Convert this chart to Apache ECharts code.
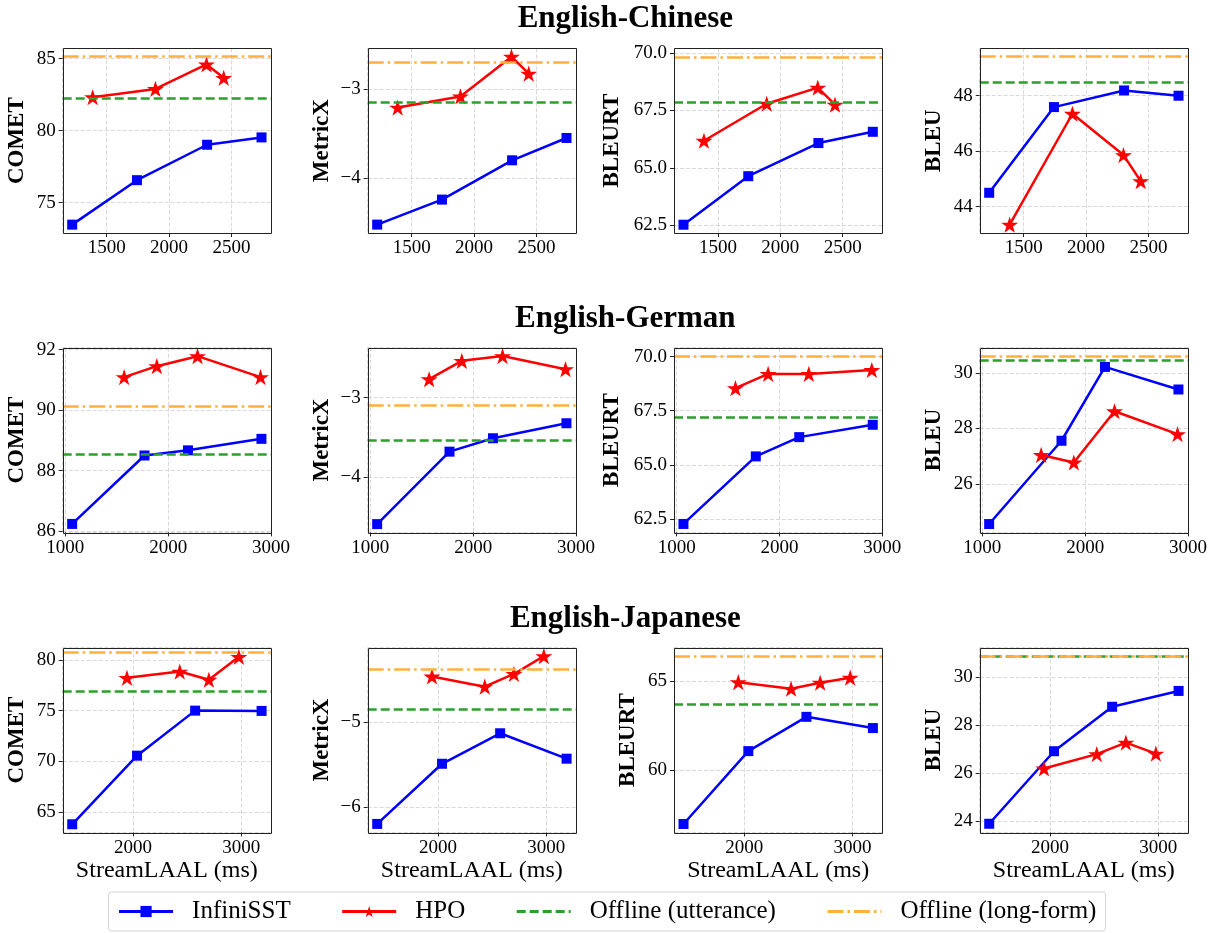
<!DOCTYPE html>
<html>
<head>
<meta charset="utf-8">
<title>StreamLAAL vs quality</title>
<script src="https://cdn.jsdelivr.net/npm/echarts@6/dist/echarts.min.js"></script>
<style>
  html, body { margin: 0; padding: 0; background: #fff; }
  #chart { width: 1214px; height: 933px; }
</style>
</head>
<body>
<div id="chart"></div>
<script>
// StreamLAAL (ms), shared by all metrics of one language pair
const zhLatInfini = [1224, 1743, 2305, 2741];
const zhLatHPO = [1388, 1891, 2300, 2438];
const deLatInfini = [1066, 1770, 2193, 2908];
const deLatHPO = [1572, 1890, 2286, 2899];
const jaLatInfini = [1438, 2037, 2574, 3188];
const jaLatHPO = [1944, 2432, 2701, 2978];

// English-Chinese
const zhCometInfini = [73.47, 76.56, 79.02, 79.53];
const zhCometHPO = [82.32, 82.9, 84.6, 83.67];
const zhMetricxInfini = [-4.52, -4.24, -3.80, -3.55];
const zhMetricxHPO = [-3.21, -3.085, -2.64, -2.83];
const zhBleurtInfini = [62.53, 64.64, 66.08, 66.57];
const zhBleurtHPO = [66.18, 67.79, 68.49, 67.75];
const zhBleuInfini = [44.50, 47.59, 48.19, 48.0];
const zhBleuHPO = [43.35, 47.35, 45.86, 44.92];
const zhOfflineUtt = [82.23, -3.15, 67.86, 48.49];   // COMET, MetricX, BLEURT, BLEU
const zhOfflineLong = [85.14, -2.70, 69.81, 49.41];

// English-German
const deCometInfini = [86.24, 88.5, 88.67, 89.05];
const deCometHPO = [91.09, 91.45, 91.78, 91.09];
const deMetricxInfini = [-4.586, -3.678, -3.51, -3.322];
const deMetricxHPO = [-2.77, -2.54, -2.48, -2.644];
const deBleurtInfini = [62.27, 65.39, 66.28, 66.85];
const deBleurtHPO = [68.54, 69.2, 69.2, 69.38];
const deBleuInfini = [24.57, 27.56, 30.21, 29.40];
const deBleuHPO = [27.05, 26.78, 28.62, 27.80];
const deOfflineUtt = [88.53, -3.536, 67.21, 30.45];
const deOfflineLong = [90.12, -3.096, 70.02, 30.60];

// English-Japanese
const jaCometInfini = [63.8, 70.56, 75.0, 74.97];
const jaCometHPO = [78.23, 78.85, 78.04, 80.3];
const jaMetricxInfini = [-6.2, -5.49, -5.13, -5.43];
const jaMetricxHPO = [-4.46, -4.58, -4.43, -4.22];
const jaBleurtInfini = [57.0, 61.08, 63.0, 62.37];
const jaBleurtHPO = [64.94, 64.57, 64.91, 65.19];
const jaBleuInfini = [23.9, 26.92, 28.77, 29.43];
const jaBleuHPO = [26.2, 26.8, 27.28, 26.82];
const jaOfflineUtt = [76.95, -4.85, 63.69, 30.87];
const jaOfflineLong = [80.75, -4.37, 66.4, 30.89];

// axis ranges and tick steps
const metricNames = ['COMET', 'MetricX', 'BLEURT', 'BLEU'];
const zhYMin = [72.89, -4.614, 62.17, 43.05];
const zhYMax = [85.72, -2.546, 70.2, 49.71];
const zhYStep = [5, 1, 2.5, 2];
const deYMin = [85.96, -4.69, 61.88, 24.27];
const deYMax = [92.06, -2.375, 70.41, 30.90];
const deYStep = [2, 1, 2.5, 2];
const jaYMin = [63.0, -6.30, 56.53, 23.54];
const jaYMax = [81.2, -4.12, 66.87, 31.23];
const jaYStep = [5, 1, 5, 2];
const latMin = [1148, 974, 1350];
const latMax = [2817, 3001, 3275];
const latStep = [500, 1000, 1000];

const rows = [
  {title: 'English-Chinese', latI: zhLatInfini, latH: zhLatHPO,
   inf: [zhCometInfini, zhMetricxInfini, zhBleurtInfini, zhBleuInfini],
   hpo: [zhCometHPO, zhMetricxHPO, zhBleurtHPO, zhBleuHPO],
   utt: zhOfflineUtt, long: zhOfflineLong, yMin: zhYMin, yMax: zhYMax, yStep: zhYStep},
  {title: 'English-German', latI: deLatInfini, latH: deLatHPO,
   inf: [deCometInfini, deMetricxInfini, deBleurtInfini, deBleuInfini],
   hpo: [deCometHPO, deMetricxHPO, deBleurtHPO, deBleuHPO],
   utt: deOfflineUtt, long: deOfflineLong, yMin: deYMin, yMax: deYMax, yStep: deYStep},
  {title: 'English-Japanese', latI: jaLatInfini, latH: jaLatHPO,
   inf: [jaCometInfini, jaMetricxInfini, jaBleurtInfini, jaBleuInfini],
   hpo: [jaCometHPO, jaMetricxHPO, jaBleurtHPO, jaBleuHPO],
   utt: jaOfflineUtt, long: jaOfflineLong, yMin: jaYMin, yMax: jaYMax, yStep: jaYStep}
];

const FONT = '"Liberation Serif", "Times New Roman", serif';
const STAR = 'path://M0,-100L22.5,-30.9L95.1,-30.9L36.3,11.8L58.8,80.9L0,38.2L-58.8,80.9L-36.3,11.8L-95.1,-30.9L-22.5,-30.9Z';
const BLUE = '#0000ff', RED = '#ff0000', GREEN = '#2ca02c', ORANGE = '#ffb13b';
const UTT_DASH = [9, 4], LONG_DASH = [16, 4, 2.5, 4];

const lefts = [62.7, 367.7, 674, 979.7];
const tops = [48.3, 347.7, 647.7];
const W = 208.3, H = 184.7;

const grids = [], xAxes = [], yAxes = [], series = [], graphics = [];

function tickFmt(step) {
  return function (v) {
    const s = step % 1 ? v.toFixed(1) : String(Math.round(v));
    return s.replace('-', '\u2212');
  };
}

const splitStyle = {show: true, lineStyle: {color: '#cfcfcf', width: 0.8, type: [4, 2]}};

rows.forEach(function (row, r) {
  graphics.push({
    type: 'text', x: (lefts[0] + lefts[3] + W) / 2, y: tops[r] - 29,
    style: {text: row.title, font: 'bold 31px ' + FONT, fill: '#000',
            textAlign: 'center', textVerticalAlign: 'middle'}
  });
  metricNames.forEach(function (name, c) {
    const idx = grids.length;
    grids.push({left: lefts[c], top: tops[r], width: W, height: H, show: false});
    // panel frame drawn above the split lines
    graphics.push({
      type: 'rect', z: 100, silent: true,
      shape: {x: Math.round(lefts[c]) + 0.5, y: Math.round(tops[r]) + 0.5, width: Math.round(W), height: Math.round(H)},
      style: {fill: 'none', stroke: '#222', lineWidth: 1}
    });
    xAxes.push({
      type: 'value', gridIndex: idx, min: latMin[r], max: latMax[r],
      minInterval: latStep[r], maxInterval: latStep[r],
      name: r === 2 ? 'StreamLAAL (ms)' : '', nameLocation: 'middle', nameGap: 26,
      nameTextStyle: {fontFamily: FONT, fontSize: 24, color: '#000'},
      axisLine: {show: false},
      axisTick: {show: true, length: 4, lineStyle: {color: '#222'}},
      axisLabel: {fontFamily: FONT, fontSize: 19, color: '#000', margin: 6,
                  showMinLabel: false, showMaxLabel: false, formatter: tickFmt(latStep[r])},
      splitLine: splitStyle
    });
    const step = row.yStep[c];
    yAxes.push({
      type: 'value', gridIndex: idx, min: row.yMin[c], max: row.yMax[c],
      minInterval: step, maxInterval: step,
      name: name, nameLocation: 'middle', nameRotate: 90, nameGap: step % 1 ? 50 : 34,
      nameTextStyle: {fontFamily: FONT, fontSize: 23, fontWeight: 'bold', color: '#000'},
      axisLine: {show: false},
      axisTick: {show: true, length: 4, lineStyle: {color: '#222'}},
      axisLabel: {fontFamily: FONT, fontSize: 19, color: '#000', margin: 7,
                  showMinLabel: false, showMaxLabel: false, formatter: tickFmt(step)},
      splitLine: splitStyle
    });
    series.push({
      name: 'Offline (utterance)', type: 'line', xAxisIndex: idx, yAxisIndex: idx,
      data: [], symbol: 'none', z: 1, color: GREEN,
      lineStyle: {color: GREEN, width: 2.5, type: UTT_DASH},
      markLine: {silent: true, symbol: ['none', 'none'], label: {show: false},
                 lineStyle: {color: GREEN, width: 2.5, type: UTT_DASH},
                 data: [{yAxis: row.utt[c]}]}
    });
    series.push({
      name: 'Offline (long-form)', type: 'line', xAxisIndex: idx, yAxisIndex: idx,
      data: [], symbol: 'none', z: 1, color: ORANGE,
      lineStyle: {color: ORANGE, width: 2.5, type: LONG_DASH},
      markLine: {silent: true, symbol: ['none', 'none'], label: {show: false},
                 lineStyle: {color: ORANGE, width: 2.5, type: LONG_DASH},
                 data: [{yAxis: row.long[c]}]}
    });
    series.push({
      name: 'InfiniSST', type: 'line', xAxisIndex: idx, yAxisIndex: idx, z: 3,
      data: row.latI.map(function (x, i) { return [x, row.inf[c][i]]; }),
      symbol: 'rect', symbolSize: 10, color: BLUE,
      lineStyle: {color: BLUE, width: 2.5}, itemStyle: {color: BLUE}
    });
    series.push({
      name: 'HPO', type: 'line', xAxisIndex: idx, yAxisIndex: idx, z: 4,
      data: row.latH.map(function (x, i) { return [x, row.hpo[c][i]]; }),
      symbol: STAR, symbolSize: 17, symbolKeepAspect: true, color: RED,
      lineStyle: {color: RED, width: 2.5}, itemStyle: {color: RED}
    });
  });
});

const chart = echarts.init(document.getElementById('chart'));
chart.setOption({
  animation: false,
  backgroundColor: '#fff',
  textStyle: {fontFamily: FONT},
  grid: grids,
  xAxis: xAxes,
  yAxis: yAxes,
  series: series,
  graphic: graphics,
  legend: {
    data: [
      'InfiniSST',
      'HPO',
      {name: 'Offline (utterance)', itemStyle: {opacity: 0}},
      {name: 'Offline (long-form)', itemStyle: {opacity: 0}}
    ],
    left: 'center', top: 892,
    itemWidth: 54, itemHeight: 14, itemGap: 50,
    padding: [7, 9],
    borderColor: '#d6d6d6', borderWidth: 1, borderRadius: 3,
    lineStyle: {width: 3},
    textStyle: {fontFamily: FONT, fontSize: 25, lineHeight: 25, color: '#000', padding: [0, 0, 0, 14]}
  }
});
</script>
</body>
</html>
